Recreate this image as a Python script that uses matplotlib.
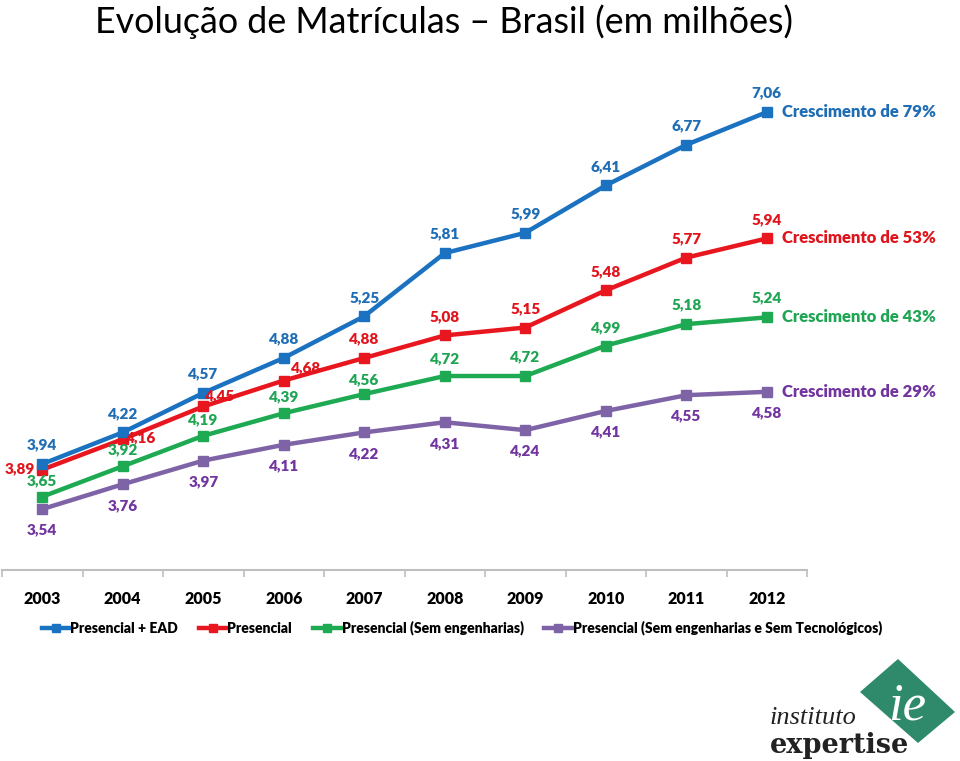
import matplotlib
matplotlib.use("Agg")
import matplotlib.pyplot as plt
from matplotlib.patches import Polygon
from matplotlib.lines import Line2D

plt.rcParams['font.family'] = ['Lato', 'DejaVu Sans']

years = ["2003", "2004", "2005", "2006", "2007", "2008", "2009", "2010", "2011", "2012"]
presencial_ead = [3.94, 4.22, 4.57, 4.88, 5.25, 5.81, 5.99, 6.41, 6.77, 7.06]
presencial = [3.89, 4.16, 4.45, 4.68, 4.88, 5.08, 5.15, 5.48, 5.77, 5.94]
sem_eng = [3.65, 3.92, 4.19, 4.39, 4.56, 4.72, 4.72, 4.99, 5.18, 5.24]
sem_eng_tec = [3.54, 3.76, 3.97, 4.11, 4.22, 4.31, 4.24, 4.41, 4.55, 4.58]
series_names = ["Presencial + EAD", "Presencial", "Presencial (Sem engenharias)",
                "Presencial (Sem engenharias e Sem Tecnológicos)"]
growth = ["Crescimento de 79%", "Crescimento de 53%", "Crescimento de 43%", "Crescimento de 29%"]

line_colors = ["#1B72C0", "#E8161E", "#1EAA52", "#7F63A7"]
text_colors = ["#1F6DB5", "#E0141C", "#1FA553", "#7235A0"]

# label offsets in pixels (dx, dy), per series / point
off_blue = [(0, 19)] * 10
off_red = [(-22, 1), (18, 1), (17, 11), (22, 13)] + [(0, 19)] * 6
off_green = [(0, 16), (0, 16), (0, 16), (0, 16), (0, 14), (0, 17), (0, 19), (0, 18), (0, 19), (0, 20)]
off_purple = [(0, -21)] * 10
offsets = [off_blue, off_red, off_green, off_purple]

W, H = 960, 761
fig = plt.figure(figsize=(W / 100, H / 100), dpi=100)
fig.patch.set_facecolor("white")

ax = fig.add_axes([2 / W, 1 - 570 / H, 805 / W, (570 - 62.5) / H])
ax.set_xlim(-0.5, len(years) - 0.5)
ax.set_ylim(3.0, 7.5)

data = [presencial_ead, presencial, sem_eng, sem_eng_tec]
x = list(range(len(years)))
handles = []
for i, vals in enumerate(data):
    ax.plot(x, vals, color=line_colors[i], lw=3.2, marker="s", markersize=7.5,
            solid_joinstyle="miter", zorder=3 + (3 - i))
    handles.append(Line2D([0], [0], color=line_colors[i], lw=3.2, marker="s", markersize=6))
    for j, v in enumerate(vals):
        dx, dy = offsets[i][j]
        ax.annotate(f"{v:.2f}".replace(".", ","), (j, v),
                    xytext=(dx * 0.72, dy * 0.72), textcoords="offset points",
                    ha="center", va="center", fontsize=11, fontweight="heavy",
                    color=text_colors[i], zorder=10)
    ax.annotate(growth[i], (x[-1], vals[-1]), xytext=(11, 0), textcoords="offset points",
                ha="left", va="center", fontsize=12, fontweight="heavy",
                color=text_colors[i], annotation_clip=False)

for s in ["left", "right", "top"]:
    ax.spines[s].set_visible(False)
ax.spines["bottom"].set_color("#BFBFBF")
ax.spines["bottom"].set_linewidth(1.5)
ax.set_yticks([])
ax.set_xticks(x)
ax.set_xticklabels(years, fontsize=11.5, fontweight="heavy")
ax.tick_params(axis="x", which="major", length=0, pad=15)
ax.set_xticks([k - 0.5 for k in range(len(years) + 1)], minor=True)
ax.tick_params(axis="x", which="minor", length=5, color="#BFBFBF", width=1.2, direction="out")
ax.set_facecolor("none")

fig.legend(handles, series_names, loc="center", bbox_to_anchor=(462 / W, 1 - 628 / H),
           ncol=4, frameon=False, handlelength=2.0, handletextpad=0.05, columnspacing=1.5,
           prop={"weight": "heavy", "size": 10})

fig.text(95 / W, 1 - 33 / H, "Evolução de Matrículas – Brasil (em milhões)",
         fontsize=25.8, ha="left", va="baseline", color="black",
         family=["Lato", "DejaVu Sans"])

# logo
pts = [(898, 659), (955, 712), (918, 743), (860, 692)]
fig.patches.append(Polygon([(px / W, 1 - py / H) for px, py in pts], closed=True,
                           transform=fig.transFigure, facecolor="#2F8A6C", edgecolor="none"))
fig.text(907 / W, 1 - 720 / H, "ie", fontsize=38, style="italic", color="white",
         ha="center", va="baseline", family=["Liberation Serif", "DejaVu Serif"])
fig.text(770 / W, 1 - 724 / H, "instituto", fontsize=19, style="italic", color="#222222",
         ha="left", va="baseline", family=["Liberation Serif", "DejaVu Serif"])
fig.text(770 / W, 1 - 753 / H, "expertise", fontsize=19.5, fontweight="bold", color="#222222",
         ha="left", va="baseline", family=["DejaVu Serif"])

fig.savefig("out.png", dpi=100)
